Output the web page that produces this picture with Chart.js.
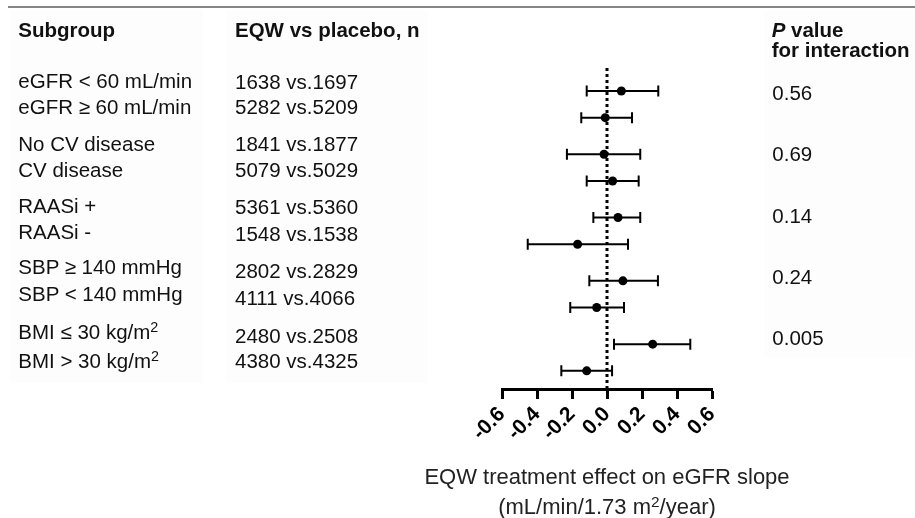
<!DOCTYPE html>
<html>
<head>
<meta charset="utf-8">
<script src="https://cdn.jsdelivr.net/npm/chart.js@4/dist/chart.umd.min.js"></script>
<style>
  html, body { margin:0; padding:0; background:#fff; overflow:hidden; width:915px; height:518px; }
  #wrap { position:relative; width:915px; height:518px; font-family:"Liberation Sans", Arial, sans-serif; color:#111; }
  canvas { position:absolute; left:0; top:0; }
  .panel { position:absolute; background:#fdfdfd; box-shadow:0 0 1px #f4f4f4; }
  .t { position:absolute; white-space:nowrap; font-size:20.5px; line-height:1.15; transform:translateY(-50%); }
  .c { transform:translate(-50%,-50%); font-size:22px; color:#222; }
  .b { font-weight:bold; }
  sup { font-size:0.7em; vertical-align:0.5em; line-height:0; }
  #topline { position:absolute; left:8px; top:6px; width:907px; height:2px; background:#858585; }
</style>
</head>
<body>
<div id="wrap">
  <div id="topline"></div>
  <div class="panel" style="left:12px;top:11px;width:190px;height:371px;"></div>
  <div class="panel" style="left:228px;top:11px;width:199px;height:371px;"></div>
  <div class="panel" style="left:765px;top:11px;width:150px;height:346px;"></div>
  <canvas id="c" width="915" height="518"></canvas>
</div>
<script>
// ---- data ----
const subgroups = ["eGFR < 60 mL/min", "eGFR ≥ 60 mL/min", "No CV disease", "CV disease",
  "RAASi +", "RAASi -", "SBP ≥ 140 mmHg", "SBP < 140 mmHg", "BMI ≤ 30 kg/m²", "BMI > 30 kg/m²"];
const nCounts = ["1638 vs.1697", "5282 vs.5209", "1841 vs.1877", "5079 vs.5029",
  "5361 vs.5360", "1548 vs.1538", "2802 vs.2829", "4111 vs.4066", "2480 vs.2508", "4380 vs.4325"];
const estimates = [0.082, -0.010, -0.017, 0.032, 0.063, -0.168, 0.091, -0.059, 0.261, -0.116];
const lowerCI   = [-0.116, -0.147, -0.229, -0.116, -0.078, -0.453, -0.101, -0.210, 0.040, -0.261];
const upperCI   = [0.293, 0.143, 0.190, 0.181, 0.190, 0.120, 0.291, 0.097, 0.476, 0.029];
const pValues = ["0.56", "0.69", "0.14", "0.24", "0.005"];
const xTickValues = [-0.6, -0.4, -0.2, 0.0, 0.2, 0.4, 0.6];
const xTickLabels = ["-0.6", "-0.4", "-0.2", "0.0", "0.2", "0.4", "0.6"];
const headers = { subgroup: "Subgroup", n: "EQW vs placebo, n", p1: "value", p2: "for interaction" };
const axisTitle = ["EQW treatment effect on eGFR slope", "(mL/min/1.73 m²/year)"];

// ---- layout (text positions) ----
const wrap = document.getElementById('wrap');
function addText(html, x, y, cls) {
  const d = document.createElement('div');
  d.className = 't' + (cls ? ' ' + cls : '');
  d.style.left = x + 'px'; d.style.top = y + 'px';
  d.innerHTML = html;
  wrap.appendChild(d);
}
const esc = s => s.replace(/&/g,'&amp;').replace(/</g,'&lt;').replace(/>/g,'&gt;').replace(/²/g,'<sup>2</sup>');
const subY = [81.2, 106.8, 143.7, 169.7, 206, 231.5, 266.7, 293.8, 331.7, 360.5];
const nY   = [81.7, 106.8, 143.7, 170, 207, 234, 270.8, 297.5, 335.8, 361];
const pY   = [93, 154.3, 215.8, 276.7, 337.7];
addText(headers.subgroup, 18.3, 29.7, 'b');
addText(esc(headers.n), 235, 29.7, 'b');
addText('<i>P</i> ' + headers.p1, 771.7, 29.7, 'b');
addText(headers.p2, 771.7, 50, 'b');
subgroups.forEach((s, i) => addText(esc(s), 18.3, subY[i]));
nCounts.forEach((s, i) => addText(esc(s), 235, nY[i]));
pValues.forEach((s, i) => addText(s, 772.3, pY[i]));

// ---- chart ----
const rowPos = i => i + Math.floor(i / 2) * 0.37;
const yMin = -0.86, yMax = 11.16;

const errorBars = {
  id: 'errorBars',
  beforeDatasetsDraw(chart) {
    const ctx = chart.ctx, xs = chart.scales.x, ys = chart.scales.y;
    ctx.save();
    ctx.strokeStyle = '#000';
    ctx.lineWidth = 2;
    estimates.forEach((v, i) => {
      const y = ys.getPixelForValue(rowPos(i));
      const x1 = xs.getPixelForValue(lowerCI[i]);
      const x2 = xs.getPixelForValue(upperCI[i]);
      ctx.beginPath();
      ctx.moveTo(x1, y); ctx.lineTo(x2, y);
      ctx.moveTo(x1, y - 5.5); ctx.lineTo(x1, y + 5.5);
      ctx.moveTo(x2, y - 5.5); ctx.lineTo(x2, y + 5.5);
      ctx.stroke();
    });
    ctx.restore();
  }
};

// axis title placed under the axis, centred on the x scale
const axisTitlePlugin = {
  id: 'axisTitleHtml',
  afterRender(chart) {
    if (chart._titleDone) return;
    chart._titleDone = true;
    const xs = chart.scales.x;
    const cx = (xs.left + xs.right) / 2;
    const ys = [476.7, 506.5];
    axisTitle.forEach((s, i) => addText(esc(s), cx, ys[i], 'c'));
  }
};

const FONT = '"Liberation Sans", Arial, sans-serif';
new Chart(document.getElementById('c'), {
  type: 'scatter',
  data: {
    datasets: [
      {
        label: 'Estimate',
        data: estimates.map((v, i) => ({ x: v, y: rowPos(i) })),
        pointRadius: 4.5,
        pointBackgroundColor: '#000',
        pointBorderColor: '#000',
        pointBorderWidth: 0,
        order: 1
      },
      {
        type: 'line',
        label: 'zero',
        data: [{ x: 0, y: yMin }, { x: 0, y: yMax }],
        borderColor: '#000',
        borderWidth: 3,
        borderDash: [3, 3],
        pointRadius: 0,
        showLine: true,
        fill: false,
        order: 2
      }
    ]
  },
  options: {
    responsive: false,
    animation: false,
    events: [],
    layout: { padding: { left: 502, right: 203, top: 68, bottom: 0 } },
    plugins: { legend: { display: false }, tooltip: { enabled: false } },
    scales: {
      x: {
        type: 'linear',
        min: -0.6, max: 0.6,
        afterBuildTicks: s => { s.ticks = xTickValues.map(v => ({ value: v })); },
        afterFit: s => { s.height = 129; },
        ticks: {
          autoSkip: false,
          minRotation: 45, maxRotation: 45,
          padding: 3,
          color: '#000',
          font: { family: FONT, size: 21, weight: 'bold' },
          callback: (v, i) => xTickLabels[i]
        },
        grid: { drawOnChartArea: false, drawTicks: true, tickLength: 10, tickWidth: 3, tickColor: '#000' },
        border: { display: true, color: '#000', width: 3 },
        title: { display: false }
      },
      y: {
        type: 'linear',
        display: false,
        reverse: true,
        min: yMin, max: yMax
      }
    }
  },
  plugins: [errorBars, axisTitlePlugin]
});
</script>
</body>
</html>
